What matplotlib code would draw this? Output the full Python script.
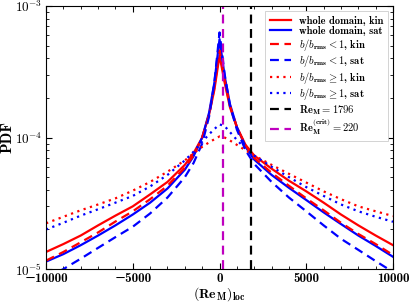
import matplotlib
matplotlib.use("Agg")
import matplotlib.pyplot as plt
from matplotlib.ticker import MultipleLocator, FuncFormatter, LogLocator
import numpy as np

# ---- DATA ----
re_loc = [-10000, -9000, -8000, -7000, -6000, -5000, -4000, -3000, -2000, -1500,
          -1000, -600, -300, 0, 300, 600, 1000, 1500, 2000, 3000,
          4000, 5000, 6000, 7000, 8000, 9000, 10000]

whole_kin = [1.35e-5, 1.55e-5, 1.8e-5, 2.15e-5, 2.55e-5, 3.0e-5, 3.7e-5, 4.6e-5, 6.2e-5, 7.6e-5,
             1.0e-4, 1.5e-4, 2.3e-4, 4.2e-4, 2.6e-4, 1.7e-4, 1.2e-4, 8.8e-5, 7.3e-5, 5.8e-5,
             4.7e-5, 3.9e-5, 3.2e-5, 2.6e-5, 2.15e-5, 1.8e-5, 1.52e-5]
whole_sat = [1.14e-5, 1.3e-5, 1.52e-5, 1.8e-5, 2.15e-5, 2.6e-5, 3.2e-5, 4.1e-5, 5.7e-5, 7.2e-5,
             1.0e-4, 1.55e-4, 2.6e-4, 5.6e-4, 2.9e-4, 1.8e-4, 1.2e-4, 8.5e-5, 6.8e-5, 5.2e-5,
             4.15e-5, 3.35e-5, 2.7e-5, 2.2e-5, 1.8e-5, 1.5e-5, 1.24e-5]
low_kin = [1.16e-5, 1.35e-5, 1.6e-5, 1.9e-5, 2.3e-5, 2.75e-5, 3.4e-5, 4.3e-5, 5.9e-5, 7.3e-5,
           1.0e-4, 1.5e-4, 2.4e-4, 4.6e-4, 2.7e-4, 1.75e-4, 1.2e-4, 8.7e-5, 7.0e-5, 5.4e-5,
           4.3e-5, 3.45e-5, 2.8e-5, 2.25e-5, 1.85e-5, 1.55e-5, 1.28e-5]
low_sat = [8.6e-6, 1.0e-5, 1.2e-5, 1.45e-5, 1.75e-5, 2.1e-5, 2.65e-5, 3.5e-5, 5.0e-5, 6.4e-5,
           9.0e-5, 1.45e-4, 2.6e-4, 6.3e-4, 3.0e-4, 1.75e-4, 1.15e-4, 8.0e-5, 6.3e-5, 4.6e-5,
           3.5e-5, 2.75e-5, 2.15e-5, 1.7e-5, 1.4e-5, 1.15e-5, 9.5e-6]
high_kin = [2.23e-5, 2.5e-5, 2.8e-5, 3.1e-5, 3.45e-5, 3.95e-5, 4.6e-5, 5.5e-5, 6.7e-5, 7.6e-5,
            8.5e-5, 9.2e-5, 9.7e-5, 1.02e-4, 1.0e-4, 9.5e-5, 8.8e-5, 8.0e-5, 7.3e-5, 6.2e-5,
            5.3e-5, 4.55e-5, 3.9e-5, 3.4e-5, 3.0e-5, 2.75e-5, 2.53e-5]
high_sat = [2.0e-5, 2.25e-5, 2.55e-5, 2.85e-5, 3.2e-5, 3.6e-5, 4.25e-5, 5.2e-5, 6.7e-5, 7.8e-5,
            9.3e-5, 1.06e-4, 1.16e-4, 1.26e-4, 1.22e-4, 1.1e-4, 9.6e-5, 8.2e-5, 7.3e-5, 6.0e-5,
            5.0e-5, 4.2e-5, 3.6e-5, 3.1e-5, 2.75e-5, 2.5e-5, 2.29e-5]

re_m = 1796
re_m_crit = 220

# ---- STYLE ----
plt.rcParams["font.family"] = ["cmb10", "DejaVu Serif"]
plt.rcParams["mathtext.fontset"] = "cm"
plt.rcParams["axes.unicode_minus"] = True

fig = plt.figure(figsize=(4.15, 3.02), dpi=100)
ax = fig.add_axes([0.111, 0.109, 0.836, 0.871])

lw = 1.6
dash = (0, (4, 2.5))
dot = (0, (1, 2))
ax.plot(re_loc, whole_kin, color="red", lw=lw, label="whole domain, kin")
ax.plot(re_loc, whole_sat, color="blue", lw=lw, label="whole domain, sat")
ax.plot(re_loc, low_kin, color="red", lw=lw, ls=dash,
        label=r"$b/b_{\mathbf{rms}} < \mathbf{1}$, kin")
ax.plot(re_loc, low_sat, color="blue", lw=lw, ls=dash,
        label=r"$b/b_{\mathbf{rms}} < \mathbf{1}$, sat")
ax.plot(re_loc, high_kin, color="red", lw=lw, ls=dot,
        label=r"$b/b_{\mathbf{rms}} \geq \mathbf{1}$, kin")
ax.plot(re_loc, high_sat, color="blue", lw=lw, ls=dot,
        label=r"$b/b_{\mathbf{rms}} \geq \mathbf{1}$, sat")
ax.axvline(re_m, color="black", lw=lw, ls=dash, label=r"$\mathbf{Re_M} = \mathbf{1796}$")
ax.axvline(re_m_crit, color="m", lw=lw, ls=dash,
           label=r"$\mathbf{Re_M^{(crit)}} = \mathbf{220}$")

ax.set_yscale("log")
ax.set_xlim(-10000, 10000)
ax.set_ylim(1e-5, 1e-3)
ax.xaxis.set_major_locator(MultipleLocator(5000))
ax.xaxis.set_minor_locator(MultipleLocator(1000))
ax.yaxis.set_major_locator(LogLocator(base=10))
ax.yaxis.set_major_formatter(FuncFormatter(lambda v, p: r"$\mathbf{10^{%d}}$" % round(np.log10(v))))
ax.tick_params(which="both", direction="in", top=True, right=True, labelsize=9.5, pad=3)
ax.tick_params(which="major", length=4)
ax.tick_params(which="minor", length=2)

ax.set_xlabel(r"$(\mathbf{Re_M})_\mathbf{loc}$", fontsize=10, labelpad=0)
ax.set_ylabel("PDF", fontsize=11, labelpad=0)

leg = ax.legend(loc="upper right", fontsize=7.6, frameon=True, fancybox=False,
                edgecolor="#cccccc", framealpha=1, handlelength=2.0,
                handletextpad=0.8, labelspacing=0.05, borderpad=0.4)
leg.get_frame().set_linewidth(0.6)

fig.savefig("out.png", dpi=100)
